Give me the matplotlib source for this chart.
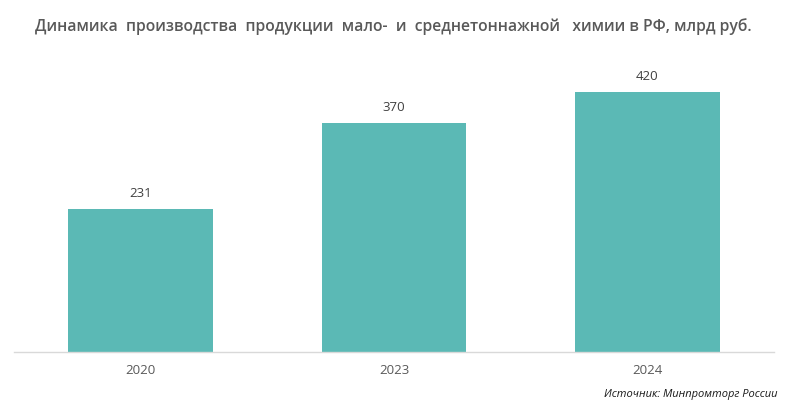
import matplotlib.pyplot as plt

years = ["2020", "2023", "2024"]
values = [231, 370, 420]

title = "Динамика  производства  продукции  мало-  и  среднетоннажной   химии в РФ, млрд руб."
source = "Источник: Минпромторг России"

plt.rcParams['font.family'] = ['Open Sans', 'DejaVu Sans']

fig = plt.figure(figsize=(7.88, 4.04), dpi=100)
ax = fig.add_axes([14 / 788, 52 / 404, 760 / 788, 302 / 404])

x = range(len(years))
bars = ax.bar(x, values, width=0.57, color="#5BB9B5")
for b, v in zip(bars, values):
    ax.text(b.get_x() + b.get_width() / 2, v + 14, str(v),
            ha="center", va="bottom", fontsize=9.5, color="#404040")

ax.set_xlim(-0.5, len(years) - 0.5)
ax.set_ylim(0, 488)
ax.set_xticks(list(x))
ax.set_xticklabels(years, fontsize=9.5, color="#595959")
ax.tick_params(axis="x", length=0, pad=9)
ax.set_yticks([])
for s in ["top", "right", "left"]:
    ax.spines[s].set_visible(False)
ax.spines["bottom"].set_color("#D9D9D9")
ax.spines["bottom"].set_linewidth(1)

fig.text(393 / 788, 1 - 27 / 404, title, ha="center", va="center",
         fontsize=11.3, fontweight="semibold", color="#595959")
fig.text(778 / 788, 1 - 394 / 404, source, ha="right", va="center",
         fontsize=8, style="italic", color="#1a1a1a")

fig.savefig("out.png", dpi=100)
